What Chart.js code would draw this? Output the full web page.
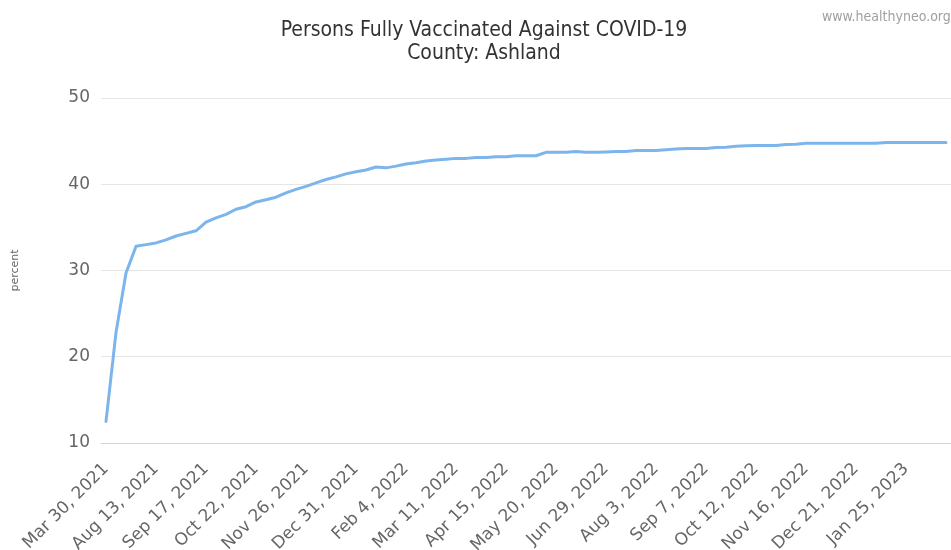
<!DOCTYPE html>
<html>
<head>
<meta charset="utf-8">
<script src="https://cdn.jsdelivr.net/npm/chart.js@4.4.1/dist/chart.umd.min.js"></script>
<style>
html,body{margin:0;padding:0;background:#fff;}
#wrap{width:951px;height:550px;position:relative;}
</style>
</head>
<body>
<div id="wrap"><canvas id="c" width="951" height="550"></canvas></div>
<script>
const titleLines = ["Persons Fully Vaccinated Against COVID-19", "County: Ashland"];
const creditText = "www.healthyneo.org";
const yAxisTitle = "percent";

const dates = [
  "Mar 30, 2021","Apr 23, 2021","May 28, 2021","Jul 30, 2021","Aug 6, 2021",
  "Aug 13, 2021","Aug 20, 2021","Aug 27, 2021","Sep 3, 2021","Sep 10, 2021",
  "Sep 17, 2021","Sep 24, 2021","Oct 1, 2021","Oct 8, 2021","Oct 15, 2021",
  "Oct 22, 2021","Oct 29, 2021","Nov 5, 2021","Nov 12, 2021","Nov 19, 2021",
  "Nov 26, 2021","Dec 3, 2021","Dec 10, 2021","Dec 17, 2021","Dec 24, 2021",
  "Dec 31, 2021","Jan 7, 2022","Jan 14, 2022","Jan 21, 2022","Jan 28, 2022",
  "Feb 4, 2022","Feb 11, 2022","Feb 18, 2022","Feb 25, 2022","Mar 4, 2022",
  "Mar 11, 2022","Mar 18, 2022","Mar 25, 2022","Apr 1, 2022","Apr 8, 2022",
  "Apr 15, 2022","Apr 22, 2022","Apr 29, 2022","May 6, 2022","May 13, 2022",
  "May 20, 2022","May 27, 2022","Jun 3, 2022","Jun 10, 2022","Jun 22, 2022",
  "Jun 29, 2022","Jul 6, 2022","Jul 13, 2022","Jul 20, 2022","Jul 27, 2022",
  "Aug 3, 2022","Aug 10, 2022","Aug 17, 2022","Aug 24, 2022","Aug 31, 2022",
  "Sep 7, 2022","Sep 14, 2022","Sep 21, 2022","Sep 28, 2022","Oct 5, 2022",
  "Oct 12, 2022","Oct 19, 2022","Oct 26, 2022","Nov 2, 2022","Nov 9, 2022",
  "Nov 16, 2022","Nov 23, 2022","Nov 30, 2022","Dec 7, 2022","Dec 14, 2022",
  "Dec 21, 2022","Dec 28, 2022","Jan 4, 2023","Jan 11, 2023","Jan 18, 2023",
  "Jan 25, 2023","Feb 1, 2023","Feb 8, 2023","Feb 15, 2023","Feb 22, 2023"
];

const percentVaccinated = [
  12.5, 22.8, 29.7, 32.8, 33.0,
  33.2, 33.55, 34.0, 34.3, 34.6,
  35.6, 36.1, 36.5, 37.1, 37.4,
  37.95, 38.2, 38.5, 39.0, 39.4,
  39.75, 40.15, 40.55, 40.85, 41.2,
  41.45, 41.65, 42.0, 41.9, 42.1,
  42.35, 42.5, 42.7, 42.8, 42.9,
  43.0, 43.0, 43.1, 43.1, 43.2,
  43.2, 43.3, 43.3, 43.3, 43.7,
  43.7, 43.7, 43.8, 43.7, 43.7,
  43.75, 43.8, 43.8, 43.9, 43.9,
  43.9, 44.0, 44.1, 44.15, 44.15,
  44.15, 44.25, 44.3, 44.4, 44.45,
  44.5, 44.5, 44.5, 44.6, 44.65,
  44.75, 44.75, 44.75, 44.75, 44.75,
  44.75, 44.75, 44.75, 44.85, 44.85,
  44.85, 44.85, 44.85, 44.85, 44.85
];

const shownTickLabels = [
  "Mar 30, 2021","Aug 13, 2021","Sep 17, 2021","Oct 22, 2021","Nov 26, 2021",
  "Dec 31, 2021","Feb 4, 2022","Mar 11, 2022","Apr 15, 2022","May 20, 2022",
  "Jun 29, 2022","Aug 3, 2022","Sep 7, 2022","Oct 12, 2022","Nov 16, 2022",
  "Dec 21, 2022","Jan 25, 2023"
];

const yTickValues = [10, 20, 30, 40, 50];

const titlePlugin = {
  id: 'hcTitles',
  afterDraw(chart) {
    const ctx = chart.ctx;
    ctx.save();
    ctx.fillStyle = '#333333';
    ctx.textAlign = 'center';
    ctx.textBaseline = 'alphabetic';
    ctx.font = '21px "DejaVu Sans Condensed", "Liberation Sans Narrow", "DejaVu Sans", sans-serif';
    ctx.fillText(titleLines[0], 484, 36);
    ctx.fillText(titleLines[1], 484, 59);
    ctx.fillStyle = '#a0a0a0';
    ctx.textAlign = 'left';
    ctx.font = '14px "DejaVu Sans Condensed", "Liberation Sans Narrow", "DejaVu Sans", sans-serif';
    ctx.fillText(creditText, 822, 21);
    ctx.restore();
  }
};

new Chart(document.getElementById('c'), {
  type: 'line',
  data: {
    labels: dates,
    datasets: [{
      label: 'percent',
      data: percentVaccinated,
      borderColor: '#7cb5ec',
      backgroundColor: '#7cb5ec',
      borderWidth: 3,
      pointRadius: 0,
      pointHoverRadius: 0,
      tension: 0,
      fill: false,
      borderJoinStyle: 'round',
      borderCapStyle: 'round'
    }]
  },
  options: {
    responsive: false,
    animation: false,
    devicePixelRatio: 1,
    layout: { padding: { top: 98, left: 0, right: 0, bottom: 0 } },
    plugins: {
      legend: { display: false },
      tooltip: { enabled: false },
      title: { display: false }
    },
    scales: {
      x: {
        type: 'category',
        offset: true,
        grid: { display: false, drawTicks: false },
        border: { display: true, color: '#ccd6eb', width: 1 },
        ticks: {
          autoSkip: false,
          maxRotation: 45,
          minRotation: 45,
          color: '#666666',
          padding: 16,
          font: { family: '"DejaVu Sans", sans-serif', size: 17 },
          callback: function (value, index) {
            const lab = this.getLabelForValue(value);
            return shownTickLabels.includes(lab) ? lab : null;
          }
        },
        afterFit: (s) => { s.height = 107; }
      },
      y: {
        min: 10,
        max: 50,
        afterBuildTicks: (s) => { s.ticks = yTickValues.map(v => ({ value: v })); },
        grid: { color: '#e6e6e6', drawTicks: false },
        border: { display: false },
        ticks: {
          color: '#666666',
          padding: 11,
          font: { family: '"DejaVu Sans", sans-serif', size: 17 }
        },
        title: {
          display: true,
          text: yAxisTitle,
          color: '#666666',
          font: { family: '"DejaVu Sans", sans-serif', size: 11 },
          padding: { top: 9, bottom: 0 }
        },
        afterFit: (s) => { s.width = 101; }
      }
    }
  },
  plugins: [titlePlugin]
});
</script>
</body>
</html>
